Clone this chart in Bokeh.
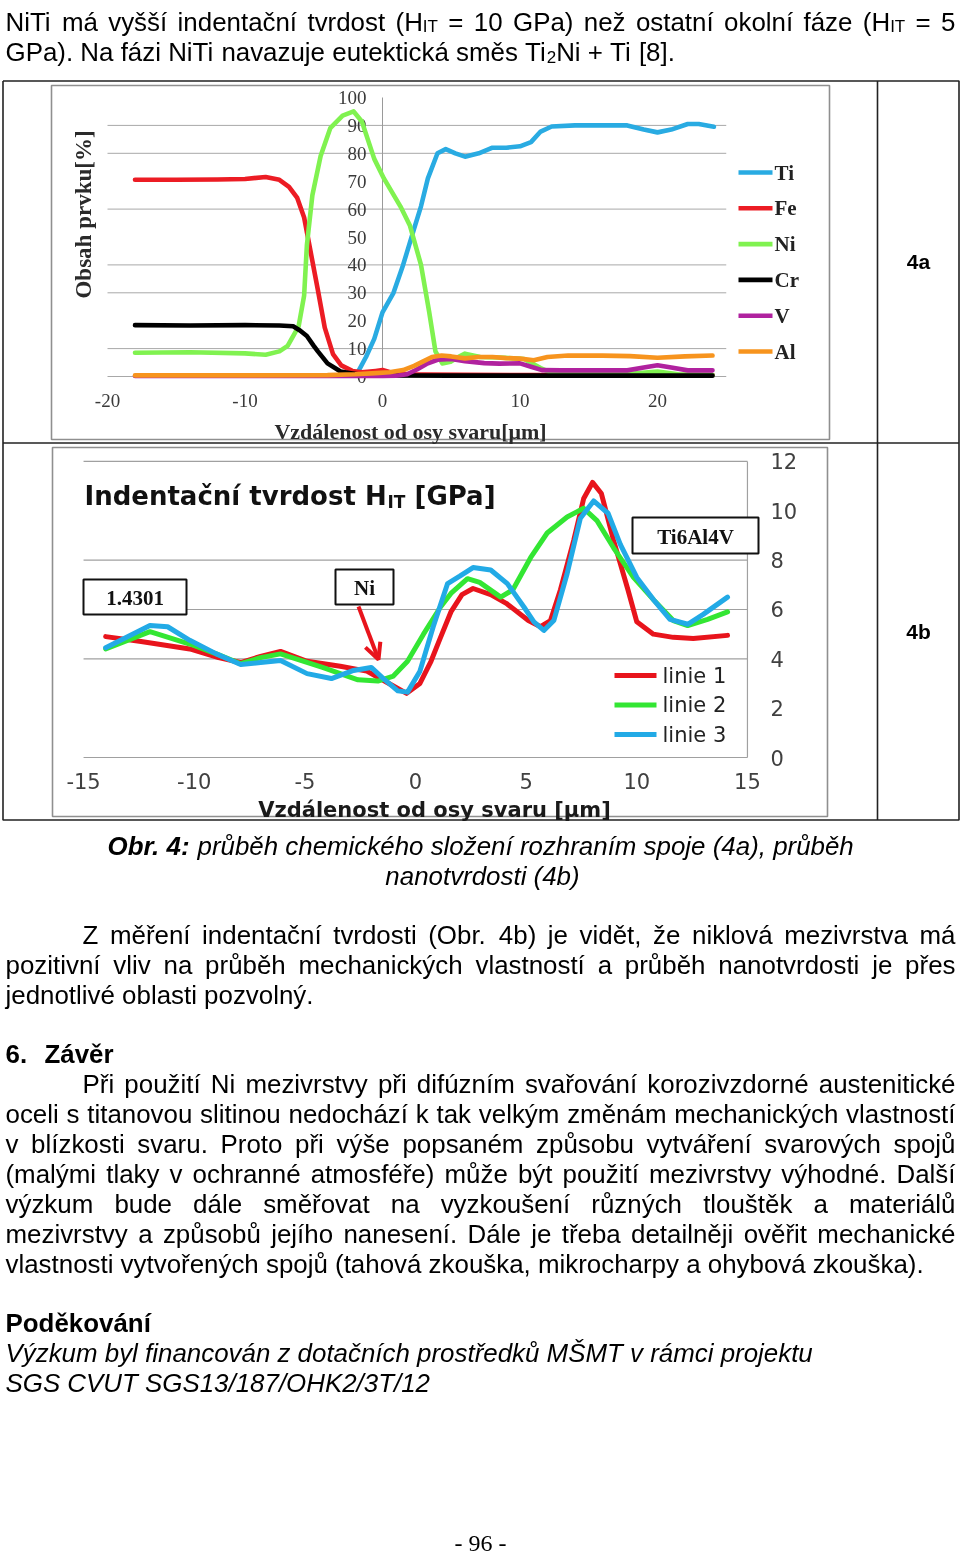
import re
from math import pi
from bokeh.plotting import figure
from bokeh.models import Range1d, ColumnDataSource, Arrow, OpenHead
from bokeh.core.properties import value
from bokeh.embed import file_html
from bokeh.resources import INLINE

# ---------------- chart 4a data (element content [%] vs distance [um]) ----------------
a_names = ["Ti", "Fe", "Ni", "Cr", "V", "Al"]
a_colors = ["#29abe2", "#ec1c24", "#80f250", "#000000", "#b0229f", "#f7941e"]
ti_x = [-1.8, -1.2, -0.6, 0.0, 0.8, 1.5, 2.3, 2.8, 3.3, 4.0, 4.6, 5.3, 6.0, 7.0, 8.0, 9.0, 10.0, 10.8, 11.5, 12.3, 14.0, 16.0, 17.8, 19.0, 20.0, 21.0, 22.2, 23.0, 24.1]
ti_y = [1.5, 7, 13.5, 23, 30, 40, 53, 61, 71, 80, 81.5, 80, 78.8, 80, 82, 82, 82.5, 84, 87.8, 89.6, 90, 90, 90, 88.5, 87.5, 88.5, 90.5, 90.5, 89.5]
fe_x = [-18, -15, -12, -10, -8.5, -7.5, -6.8, -6.2, -5.7, -5.2, -4.7, -4.2, -3.6, -3.0, -2.2, -1.5, -0.5, 0.0, 0.8, 2.0, 3.0, 6.0, 10, 15, 20, 24]
fe_y = [70.5, 70.5, 70.6, 70.8, 71.5, 70.5, 68, 64, 57, 44, 31, 17.5, 8, 4, 2, 1.5, 2, 2.3, 1.2, 0.8, 0.7, 0.6, 0.5, 0.5, 0.5, 0.5]
ni_x = [-18, -14, -10, -8.5, -7.5, -6.9, -6.1, -5.7, -5.5, -5.1, -4.5, -3.8, -2.9, -2.1, -1.5, -0.6, 0.1, 1.3, 2.0, 2.8, 3.4, 3.85, 4.35, 4.95, 5.5, 6.0, 7.1, 8.5, 9.5, 10.3, 11.5, 12.2, 14, 16, 18, 20, 21.5, 24]
ni_y = [8.5, 8.7, 8.3, 7.8, 9, 11, 18, 29, 47, 65, 79, 89, 93.5, 95, 91.4, 78, 71, 61, 54, 40, 23, 9, 4.7, 5.3, 7, 8.2, 7, 6.8, 6.5, 6.3, 3, 1.5, 1, 1, 1, 1.8, 0.8, 0.5]
cr_x = [-18, -14, -10, -7.5, -6.5, -6.0, -5.5, -5.0, -4.7, -4.0, -3.05, -2.3, -1.8, 0, 5, 10, 15, 20, 24]
cr_y = [18.4, 18.3, 18.4, 18.3, 18, 16.5, 14.5, 11, 9, 4.7, 1.8, 1.2, 0.8, 0.4, 0.3, 0.3, 0.3, 0.3, 0.3]
v_x = [-18, -5, 0, 1.0, 1.8, 2.5, 3.2, 4.0, 5.0, 6.0, 7.4, 8.5, 10.0, 10.8, 11.6, 13, 15, 17.8, 19, 20, 21, 22.2, 24]
v_y = [0.2, 0.2, 0.2, 0.3, 0.8, 2.5, 4.5, 6, 6.3, 5.5, 4.8, 4.6, 4.7, 3.5, 2.3, 2.2, 2.2, 2.2, 3.2, 4, 3.2, 2.2, 2.2]
al_x = [-18, -10, -4, -2, -0.5, 0.5, 1.5, 2.3, 3.0, 3.6, 4.3, 5.0, 6.0, 7.0, 8.0, 9.0, 10.0, 11.0, 12.0, 13.5, 16, 18, 20, 22, 24]
al_y = [0.4, 0.4, 0.5, 0.8, 1.2, 1.5, 2.3, 3.8, 5.5, 7, 7.5, 7.2, 6.5, 7, 7, 6.6, 6.4, 5.8, 7, 7.5, 7.5, 7.3, 6.7, 7.2, 7.5]
a_x_ticks = [-20, -10, 0, 10, 20]
a_y_ticks = [0, 10, 20, 30, 40, 50, 60, 70, 80, 90, 100]
a_y_grid = [0, 10, 30, 40, 60, 80, 90]
a_x_lo, a_x_hi = -20, 25

# ---------------- chart 4b data (indentation hardness [GPa] vs distance [um]) ----------------
b_names = ["linie 1", "linie 2", "linie 3"]
b_colors = ["#e8141c", "#33e633", "#22aae6"]
l1_x = [-14.0, -12.4, -10.2, -8.9, -7.9, -7.0, -6.1, -4.9, -3.4, -2.2, -1.3, -0.4, 0.2, 0.7, 1.1, 1.6, 2.1, 2.6, 3.4, 4.1, 5.1, 5.65, 6.1, 6.55, 7.15, 7.6, 8.0, 8.4, 8.95, 9.6, 10.0, 10.75, 11.65, 12.55, 14.1]
l1_y = [4.9, 4.7, 4.4, 4.05, 3.85, 4.1, 4.3, 3.9, 3.7, 3.5, 3.05, 2.6, 3.0, 3.9, 4.8, 5.9, 6.6, 6.85, 6.6, 6.25, 5.55, 5.3, 5.55, 6.8, 8.8, 10.5, 11.15, 10.7, 8.8, 6.8, 5.5, 5.0, 4.87, 4.82, 4.95]
l2_x = [-14.0, -12.0, -10.2, -9.0, -7.9, -7.0, -6.1, -4.2, -2.6, -1.7, -1.0, -0.36, 0.36, 1.13, 1.6, 2.35, 2.9, 3.85, 4.4, 5.2, 5.95, 6.85, 7.6, 8.2, 8.95, 9.85, 10.75, 11.65, 12.3, 13.2, 14.1]
l2_y = [4.4, 5.1, 4.6, 4.2, 3.8, 4.05, 4.2, 3.65, 3.15, 3.1, 3.3, 3.9, 5.0, 6.1, 6.65, 7.25, 7.1, 6.5, 6.8, 8.1, 9.1, 9.75, 10.1, 9.6, 8.5, 7.3, 6.4, 5.55, 5.35, 5.6, 5.9]
l3_x = [-14.0, -12.0, -11.2, -10.2, -9.0, -7.9, -7.0, -6.1, -4.9, -3.8, -2.8, -2.0, -1.45, -0.8, -0.36, 0.2, 0.8, 1.45, 2.0, 2.6, 3.4, 4.15, 4.9, 5.35, 5.8, 6.25, 6.85, 7.45, 8.05, 8.7, 9.25, 10.0, 10.75, 11.5, 12.3, 13.0, 14.1]
l3_y = [4.45, 5.35, 5.3, 4.75, 4.2, 3.77, 3.85, 3.93, 3.4, 3.2, 3.53, 3.65, 3.2, 2.7, 2.65, 3.5, 5.3, 7.05, 7.35, 7.7, 7.6, 7.05, 6.1, 5.5, 5.15, 5.55, 7.45, 9.7, 10.4, 9.9, 8.65, 7.3, 6.4, 5.6, 5.4, 5.8, 6.5]
b_x_ticks = [-15, -10, -5, 0, 5, 10, 15]
b_y_ticks = [0, 2, 4, 6, 8, 10, 12]
b_y_grid = [0, 4, 6, 8, 12]
b_x_lo, b_x_hi = -15, 15
b_notes = ["1.4301", "Ni", "Ti6Al4V"]

# ---------------- page text ----------------
top_lines = [
    ("NiTi má vyšší indentační tvrdost (H{IT} = 10 GPa) než ostatní okolní fáze (H{IT} = 5", 5, 955, 21),
    ("GPa). Na fázi NiTi navazuje eutektická směs Ti{2}Ni + Ti [8].", 5, None, 51),
]
body_lines = [
    ("Z měření indentační tvrdosti (Obr. 4b) je vidět, že niklová mezivrstva má", 82, 955, 934),
    ("pozitivní vliv na průběh mechanických vlastností a průběh nanotvrdosti je přes", 5, 955, 964),
    ("jednotlivé oblasti pozvolný.", 5, None, 994),
    ("Při použití Ni mezivrstvy při difúzním svařování korozivzdorné austenitické", 82, 955, 1083),
    ("oceli s titanovou slitinou nedochází k tak velkým změnám mechanických vlastností", 5, 955, 1113),
    ("v blízkosti svaru. Proto při výše popsaném způsobu vytváření svarových spojů", 5, 955, 1143),
    ("(malými tlaky v ochranné atmosféře) může být použití mezivrstvy výhodné. Další", 5, 955, 1173),
    ("výzkum bude dále směřovat na vyzkoušení různých tlouštěk a materiálů", 5, 955, 1203),
    ("mezivrstvy a způsobů jejího nanesení. Dále je třeba detailněji ověřit mechanické", 5, 955, 1233),
    ("vlastnosti vytvořených spojů (tahová zkouška, mikrocharpy a ohybová zkouška).", 5, None, 1263),
]

W, H = 960, 1554
FS = 25.9
SUBFS = 17.0
SANS = value("Liberation Sans")
SERIF = value("Liberation Serif")
DJV = value("DejaVu Sans")

# Arial / Liberation Sans advance widths (1/1000 em)
AW = {' ': 278, '(': 333, ')': 333, '+': 584, ',': 278, '-': 333, '.': 278, '/': 278, ':': 278,
      '=': 584, '[': 278, ']': 278}
AW.update({d: 556 for d in "0123456789"})
AW.update(dict(zip("ABCDEFGHIJKLMNOPQRSTUVWXYZ",
                   [667, 667, 722, 722, 667, 611, 778, 722, 278, 500, 667, 556, 833, 722, 778, 667, 778, 722, 667, 611, 722, 667, 944, 667, 667, 611])))
AW.update(dict(zip("abcdefghijklmnopqrstuvwxyz",
                   [556, 556, 500, 556, 556, 278, 556, 556, 222, 222, 500, 222, 833, 556, 556, 556, 556, 333, 500, 278, 556, 500, 722, 500, 500, 500])))
AW.update({'á': 556, 'é': 556, 'ě': 556, 'í': 278, 'ó': 556, 'ú': 556, 'ů': 556, 'ý': 500, 'č': 500,
           'ň': 556, 'ř': 333, 'š': 500, 'ž': 500, 'ď': 615, 'ť': 375, 'Š': 667, 'Ž': 611, 'Č': 722, 'Ř': 722})


def tw(s, size):
    return sum(AW.get(c, 556) for c in s) * size / 1000.0


norm = dict(x=[], y=[], text=[])
subs = dict(x=[], y=[], text=[])


def parse(tok):
    out = []
    for part in re.split(r"(\{[^}]*\})", tok):
        if not part:
            continue
        if part.startswith("{"):
            out.append((part[1:-1], True))
        else:
            out.append((part, False))
    return out


def place_line(line, x0, x1, y):
    if x1 is None and "{" not in line:
        norm["x"].append(x0); norm["y"].append(y); norm["text"].append(line)
        return
    toks = [parse(t) for t in line.split(" ")]
    widths = [sum(tw(t, SUBFS if s else FS) for t, s in tk) for tk in toks]
    gap = tw(" ", FS) if x1 is None else (x1 - x0 - sum(widths)) / (len(toks) - 1)
    x = x0
    for tk, w in zip(toks, widths):
        cx = x
        for t, s in tk:
            d = subs if s else norm
            d["x"].append(cx); d["y"].append(y + 5 if s else y); d["text"].append(t)
            cx += tw(t, SUBFS if s else FS)
        x += w + gap


for ln in top_lines + body_lines:
    place_line(*ln)

# ---------------- figure ----------------
p = figure(width=W, height=H, x_range=Range1d(0, W), y_range=Range1d(H, 0),
           x_axis_type=None, y_axis_type=None, output_backend="svg", toolbar_location=None,
           min_border=0, outline_line_color=None, background_fill_color="white",
           border_fill_color="white")
p.styles = {"position": "fixed", "left": "0px", "top": "0px"}

# scales of the two embedded charts (pixel of value 0, pixels per unit)
AX0, AXS, AY0, AYS = 382.0, 13.75, 376.0, 2.79
BX0, BXS, BY0, BYS = 415.0, 22.13, 757.0, 24.67
p.extra_x_ranges = {"ax": Range1d(-AX0 / AXS, (W - AX0) / AXS), "bx": Range1d(-BX0 / BXS, (W - BX0) / BXS)}
p.extra_y_ranges = {"ay": Range1d((AY0 - H) / AYS, AY0 / AYS), "by": Range1d((BY0 - H) / BYS, BY0 / BYS)}
A = dict(x_range_name="ax", y_range_name="ay")
B = dict(x_range_name="bx", y_range_name="by")

# table frame
p.multi_line(xs=[[2.5, 958.5, 958.5, 2.5, 2.5], [877, 877], [2.5, 958.5]],
             ys=[[80.5, 80.5, 819.5, 819.5, 80.5], [80.5, 819.5], [442.5, 442.5]],
             line_color="#222222", line_width=1.6)
p.text(x=[918, 918], y=[261, 631], text=["4a", "4b"], text_font=SANS, text_font_style="bold",
       text_font_size="21px", text_align="center", text_baseline="middle", text_color="black")

# chart boxes
p.quad(left=[51, 52], right=[829, 827], top=[85, 447], bottom=[439, 816],
       fill_color="white", line_color="#8f8f8f", line_width=1.6)

# ---- chart 4a ----
p.segment(x0=[a_x_lo] * len(a_y_grid), x1=[a_x_hi] * len(a_y_grid), y0=a_y_grid, y1=a_y_grid,
          line_color="#a8a8a8", line_width=1, **A)
p.segment(x0=[0], x1=[0], y0=[0], y1=[a_y_ticks[-1]], line_color="#9a9a9a", line_width=1, **A)
p.text(x=[366] * len(a_y_ticks), y=a_y_ticks, text=[str(v) for v in a_y_ticks],
       y_range_name="ay", text_font=SERIF, text_font_size="19px", text_align="right",
       text_baseline="middle", text_color="#3a3a3a")
p.text(x=a_x_ticks, y=[400] * len(a_x_ticks), text=[str(v) for v in a_x_ticks],
       x_range_name="ax", text_font=SERIF, text_font_size="19px", text_align="center",
       text_baseline="middle", text_color="#3a3a3a")
p.text(x=[410], y=[431], text=["Vzdálenost od osy svaru[μm]"], text_font=SERIF, text_font_style="bold",
       text_font_size="22px", text_align="center", text_baseline="alphabetic", text_color="#2a2a2a")
p.text(x=[83], y=[214], text=["Obsah prvku[%]"], angle=pi / 2, text_font=SERIF, text_font_style="bold",
       text_font_size="23px", text_align="center", text_baseline="middle", text_color="#2a2a2a")

a_series = [(ti_x, ti_y), (fe_x, fe_y), (ni_x, ni_y), (cr_x, cr_y), (v_x, v_y), (al_x, al_y)]
for (xs, ys), col in zip(a_series, a_colors):
    p.line(xs, ys, line_color=col, line_width=4.6, line_join="round", line_cap="round", **A)

for i, (name, col) in enumerate(zip(a_names, a_colors)):
    ly = 172 + 35.8 * i
    p.segment(x0=[738], x1=[772], y0=[ly], y1=[ly], line_color=col, line_width=4.6)
    p.text(x=[774], y=[ly], text=[name], text_font=SERIF, text_font_style="bold", text_font_size="21px",
           text_align="left", text_baseline="middle", text_color="#222222")

# ---- chart 4b ----
p.segment(x0=[b_x_lo] * len(b_y_grid), x1=[b_x_hi] * len(b_y_grid), y0=b_y_grid, y1=b_y_grid,
          line_color="#a0a0a0", line_width=1.2, **B)
p.segment(x0=[b_x_hi], x1=[b_x_hi], y0=[b_y_ticks[0]], y1=[b_y_ticks[-1]], line_color="#a0a0a0",
          line_width=1.2, **B)
p.text(x=b_x_ticks, y=[780] * len(b_x_ticks), text=[str(v) for v in b_x_ticks], x_range_name="bx",
       text_font=DJV, text_font_size="21px", text_align="center", text_baseline="middle",
       text_color="#404040")
p.text(x=[770] * len(b_y_ticks), y=b_y_ticks, text=[str(v) for v in b_y_ticks], y_range_name="by",
       text_font=DJV, text_font_size="21px", text_align="left", text_baseline="middle",
       text_color="#404040")
p.text(x=[434], y=[809], text=["Vzdálenost od osy svaru [µm]"], text_font=DJV, text_font_style="bold",
       text_font_size="21px", text_align="center", text_baseline="alphabetic", text_color="#1a1a1a")
p.text(x=[84, 414], y=[495, 495], text=["Indentační tvrdost H", "[GPa]"], text_font=DJV,
       text_font_style="bold", text_font_size="26px", text_align="left", text_baseline="alphabetic",
       text_color="#111111")
p.text(x=[387], y=[501], text=["IT"], text_font=DJV, text_font_style="bold", text_font_size="17px",
       text_align="left", text_baseline="alphabetic", text_color="#111111")

b_series = [(l1_x, l1_y), (l2_x, l2_y), (l3_x, l3_y)]
for (xs, ys), col in zip(b_series, b_colors):
    p.line(xs, ys, line_color=col, line_width=5, line_join="round", line_cap="round", **B)

for i, (name, col) in enumerate(zip(b_names, b_colors)):
    ly = 675 + 29.5 * i
    p.segment(x0=[614], x1=[656], y0=[ly], y1=[ly], line_color=col, line_width=5)
    p.text(x=[662], y=[ly], text=[name], text_font=DJV, text_font_size="21px", text_align="left",
           text_baseline="middle", text_color="#222222")

note_boxes = [(83, 186, 579, 614), (335, 393, 569, 604), (632, 758, 517, 553)]
p.quad(left=[b[0] for b in note_boxes], right=[b[1] for b in note_boxes],
       top=[b[2] for b in note_boxes], bottom=[b[3] for b in note_boxes],
       fill_color="white", line_color="#111111", line_width=2)
p.text(x=[(b[0] + b[1]) / 2 for b in note_boxes], y=[(b[2] + b[3]) / 2 + 1 for b in note_boxes],
       text=b_notes, text_font=SERIF, text_font_style="bold", text_font_size="21px",
       text_align="center", text_baseline="middle", text_color="#111111")
p.add_layout(Arrow(end=OpenHead(line_color="#e8141c", line_width=4, size=16),
                   x_start=358, y_start=606, x_end=378, y_end=659,
                   line_color="#e8141c", line_width=4))

# ---- caption ----
p.text(x=[107], y=[845], text=["Obr. 4:"], text_font=SANS, text_font_style="bold italic",
       text_font_size=f"{FS}px", text_align="left", text_baseline="alphabetic", text_color="black")
p.text(x=[197, 482], y=[845, 875],
       text=["průběh chemického složení rozhraním spoje (4a), průběh", "nanotvrdosti (4b)"],
       text_font=SANS, text_font_style="italic", text_font_size=f"{FS}px",
       text_align=["left", "center"], text_baseline="alphabetic", text_color="black")

# ---- body text ----
p.text(x="x", y="y", text="text", source=ColumnDataSource(norm), text_font=SANS,
       text_font_size=f"{FS}px", text_align="left", text_baseline="alphabetic", text_color="black")
p.text(x="x", y="y", text="text", source=ColumnDataSource(subs), text_font=SANS,
       text_font_size=f"{SUBFS}px", text_align="left", text_baseline="alphabetic", text_color="black")
p.text(x=[5, 44, 5], y=[1053, 1053, 1322], text=["6.", "Závěr", "Poděkování"], text_font=SANS,
       text_font_style="bold", text_font_size=f"{FS}px", text_align="left", text_baseline="alphabetic",
       text_color="black")
p.text(x=[5, 5], y=[1352, 1382],
       text=["Výzkum byl financován z dotačních prostředků MŠMT v rámci projektu",
             "SGS CVUT SGS13/187/OHK2/3T/12"],
       text_font=SANS, text_font_style="italic", text_font_size=f"{FS}px", text_align="left",
       text_baseline="alphabetic", text_color="black")
p.text(x=[480], y=[1542], text=["- 96 -"], text_font=SERIF, text_font_size="24px", text_align="center",
       text_baseline="middle", text_color="black")

open("out.html", "w").write(file_html(p, INLINE))
